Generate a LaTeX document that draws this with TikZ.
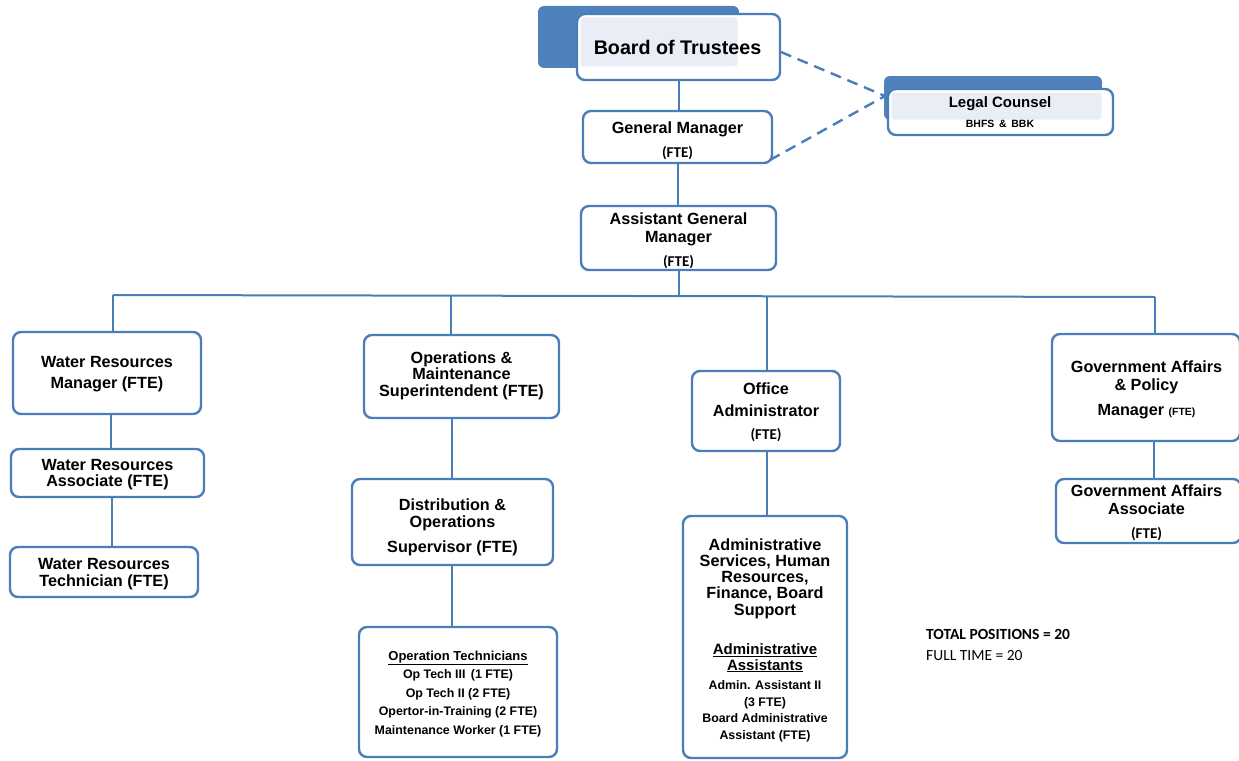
\documentclass[tikz,border=0pt]{standalone}
\usepackage{fontspec}
\setmainfont{Liberation Sans}
\newfontfamily\calfont{Carlito}
\definecolor{bblue}{RGB}{79,129,189}
\definecolor{bline}{RGB}{74,126,187}
\definecolor{blight}{RGB}{233,237,245}
\newcommand{\ftec}{{\calfont\bfseries\fontsize{15}{16}\selectfont (FTE)}}
\begin{document}
\begin{tikzpicture}[x=1pt,y=-1pt,
  box/.style={draw=bline, line width=2.4pt, rounded corners=8pt, fill=white, inner sep=0pt, outer sep=0pt},
  backbox/.style={fill=bblue, draw=none, rounded corners=6pt, inner sep=0pt, outer sep=0pt},
  lightbox/.style={fill=blight, draw=none, rounded corners=3pt, inner sep=0pt, outer sep=0pt},
  conn/.style={draw=bline, line width=2pt},
  dashline/.style={draw=bline, line width=2.4pt, dash pattern=on 11pt off 7pt},
  txt/.style={align=center, inner sep=0pt, yshift=-2pt, font=\fontsize{16.2}{16.5}\selectfont\bfseries},
  smtxt/.style={align=center, inner sep=0pt, yshift=-2pt, font=\fontsize{12.4}{18.5}\selectfont\bfseries}]
\useasboundingbox (0,0) rectangle (1239,760);

% Board of Trustees
\node[backbox, minimum width=201pt, minimum height=62pt] (boardback) at (638.5,37) {};
\node[box, minimum width=203pt, minimum height=66pt] (board) at (678.5,47) {};
\node[lightbox, minimum width=157pt, minimum height=49pt] (boardlight) at (659,42) {};
\node[inner sep=0pt, font=\fontsize{19.7}{21}\selectfont\bfseries] (boardt) at (677.5,47) {Board of Trustees};

% Legal Counsel
\node[backbox, minimum width=218pt, minimum height=44pt] (legalback) at (993,98) {};
\node[box, minimum width=225pt, minimum height=46pt] (legal) at (1000.5,112) {};
\node[lightbox, minimum width=210pt, minimum height=27pt] (legallight) at (996.5,106) {};
\node[inner sep=0pt, font=\fontsize{15}{16}\selectfont\bfseries] (legalt) at (1000,103.5) {Legal Counsel};
\node[inner sep=0pt, font=\fontsize{10.5}{12}\selectfont\bfseries] (legalt2) at (1000,124) {BHFS \,\&\, BBK};

% Management
\node[box, minimum width=189pt, minimum height=52pt] (gm) at (677.5,137) {};
\node[txt] (gmt) at (677.5,139) {General Manager\\[7.5pt]\ftec};
\node[box, minimum width=195pt, minimum height=64pt] (agm) at (678.5,238) {};
\node[txt] (agmt) at (678.5,238.5) {Assistant General\\[1.5pt]Manager\\[7.5pt]\ftec};

% Water resources column
\node[box, minimum width=188pt, minimum height=82pt] (wrm) at (107,373) {};
\node[txt] (wrmt) at (107,372.5) {Water Resources\\[4.5pt]Manager (FTE)};
\node[box, minimum width=193pt, minimum height=48pt] (wra) at (107.5,473) {};
\node[txt] (wrat) at (107.5,472.5) {Water Resources\\Associate (FTE)};
\node[box, minimum width=188pt, minimum height=50pt] (wrt) at (104,572) {};
\node[txt] (wrtt) at (104,572) {Water Resources\\Technician (FTE)};

% Operations column
\node[box, minimum width=195pt, minimum height=83pt] (om) at (461.5,376.5) {};
\node[txt] (omt) at (461.5,373.5) {Operations \&\\Maintenance\\Superintendent (FTE)};
\node[box, minimum width=201pt, minimum height=86pt] (dos) at (452.5,522) {};
\node[txt] (dost) at (452.5,525.5) {Distribution \&\\Operations\\[8.5pt]Supervisor (FTE)};
\node[box, minimum width=198pt, minimum height=130pt] (ot) at (458,692) {};
\node[smtxt] (ott) at (458,692) {{\fontsize{13}{14}\selectfont\underline{Operation Technicians}}\\Op Tech III \,(1 FTE)\\Op Tech II (2 FTE)\\Opertor-in-Training (2 FTE)\\Maintenance Worker (1 FTE)};

% Office column
\node[box, minimum width=148pt, minimum height=80pt] (oa) at (766,411) {};
\node[txt] (oat) at (766,410) {Office\\[5.5pt]Administrator\\[6.5pt]\ftec};
\node[box, minimum width=164pt, minimum height=242pt] (adm) at (765,637) {};
\node[txt, font=\fontsize{16.2}{16.3}\selectfont\bfseries] (admt1) at (765,576.5) {Administrative\\Services, Human\\Resources,\\Finance, Board\\Support};
\node[txt, font=\fontsize{15}{15.5}\selectfont\bfseries] (admt2) at (765,656) {\underline{Administrative}\\\underline{Assistants}};
\node[smtxt, font=\fontsize{12.4}{16.5}\selectfont\bfseries] (admt3) at (765,709.5) {Admin. Assistant II\\(3 FTE)\\Board Administrative\\Assistant (FTE)};

% Government affairs column
\node[box, minimum width=188pt, minimum height=107pt] (gapm) at (1146,387.5) {};
\node[txt] (gapmt) at (1146.5,388) {Government Affairs\\[1.5pt]\& Policy\\[8.5pt]Manager {\fontsize{10.5}{12}\selectfont (FTE)}};
\node[box, minimum width=185pt, minimum height=64pt] (gaa) at (1148.5,511) {};
\node[txt] (gaat) at (1146.5,510.5) {Government Affairs\\[1.5pt]Associate\\[7.5pt]\ftec};

% Totals
\node[anchor=west, inner sep=0pt, font=\calfont\bfseries\fontsize{15.5}{17}\selectfont] (tot) at (926,634) {TOTAL POSITIONS = 20};
\node[anchor=west, inner sep=0pt, font=\calfont\fontsize{15.5}{17}\selectfont] (ftime) at (926,656) {FULL TIME = 20};

% Connectors
\draw[conn] (board.south) -- (board.south |- gm.north);
\draw[conn] (gm.south) -- (gm.south |- agm.north);
\coordinate (d1) at (113,295);
\coordinate (d2) at (451,295.6);
\coordinate (d3) at (767,296.3);
\coordinate (d4) at (1155,297);
\draw[conn] (agm.south) -- (agm.south |- d3);
\draw[conn] (d1) -- (d4);
\draw[conn] (d1) -- (d1 |- wrm.north);
\draw[conn] (d2) -- (d2 |- om.north);
\draw[conn] (d3) -- (d3 |- oa.north);
\draw[conn] (d4) -- (d4 |- gapm.north);
\coordinate (c1) at (111,0);
\draw[conn] (wrm.south -| c1) -- (wra.north -| c1);
\coordinate (c2) at (112,0);
\draw[conn] (wra.south -| c2) -- (wrt.north -| c2);
\coordinate (c3) at (451.5,0);
\draw[conn] (om.south -| c3) -- (dos.north -| c3);
\draw[conn] (dos.south -| c3) -- (ot.north -| c3);
\coordinate (c4) at (767,0);
\draw[conn] (oa.south -| c4) -- (adm.north -| c4);
\coordinate (c5) at (1154,0);
\draw[conn] (gapm.south -| c5) -- (gaa.north -| c5);

% Dashed links to legal counsel
\coordinate (lcin) at (885,96);
\coordinate (bdout) at (781,52);
\draw[dashline] (bdout) -- (lcin);
\draw[dashline] (gm.south east) ++(-2,-3) -- (lcin);
\end{tikzpicture}
\end{document}
